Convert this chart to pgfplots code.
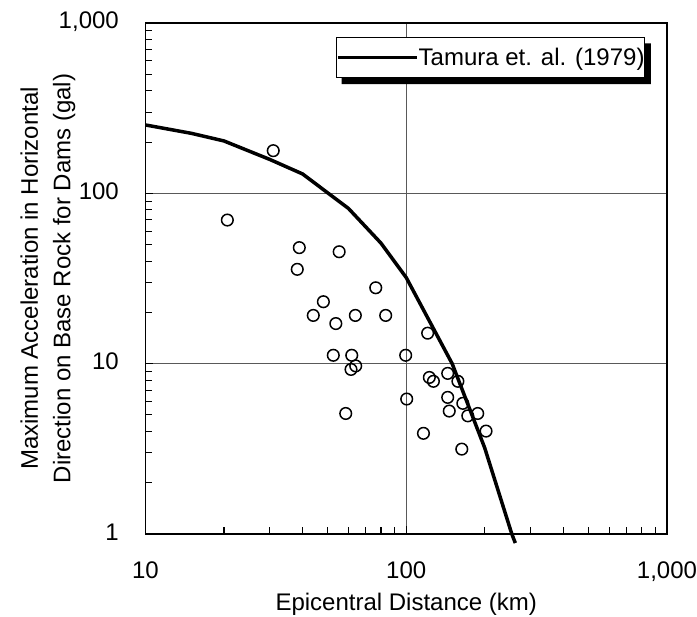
\documentclass[border=0pt]{standalone}
\usepackage{fontspec}
\setmainfont{Liberation Sans}
\usepackage{pgfplots}
\pgfplotsset{compat=1.18}

\newcommand{\chartfont}{\fontsize{24bp}{32.5bp}\selectfont}

% observed peak accelerations (km, gal)
\pgfplotstableread{
dist  acc
30.9  178
20.6  69.7
38.9  48
55.3  45.4
38.2  35.8
76.4  27.9
48.1  23.1
44.0  19.2
63.8  19.2
83.4  19.2
53.7  17.2
52.5  11.2
61.8  11.2
99.5  11.2
64.0  9.7
61.4  9.25
100.4 6.2
58.6  5.1
120.8 15.1
144.2 8.77
122.6 8.3
127.1 7.88
157.8 7.88
144.2 6.34
164.8 5.85
188.0 5.1
146.2 5.27
172.2 4.94
202.3 4.02
116.4 3.9
163.3 3.15
}\obsdata

\begin{document}
\begin{tikzpicture}
\path[use as bounding box] (-145.5bp,-83bp) rectangle (551.5bp,534bp);
\begin{axis}[
  scale only axis,
  width=521.5bp, height=511bp,
  xmode=log, ymode=log,
  xmin=10, xmax=1000, ymin=1, ymax=1000,
  clip=false,
  axis line style={line width=1.5bp},
  xtick={10,100,1000}, xticklabels={10,100,{1,000}},
  ytick={1,10,100,1000}, yticklabels={1,10,100,{1,000}},
  xtick pos=bottom, ytick pos=left,
  tick align=inside,
  major tick length=8bp, minor tick length=7bp,
  every tick/.style={black, line width=1.1bp},
  grid=major,
  major grid style={black!65, line width=0.9bp},
  tick label style={font=\chartfont},
  label style={font=\chartfont},
  xticklabel style={anchor=base, inner sep=0pt, yshift=-44bp},
  yticklabel style={anchor=base east, inner sep=0pt, xshift=-26.5bp, yshift=-6bp},
  xlabel={Epicentral Distance (km)},
  xlabel style={at={(axis description cs:0.5,0)}, anchor=base, inner sep=0pt, yshift=-76bp},
  ylabel={Maximum Acceleration in Horizontal\\Direction on Base Rock for Dams (gal)},
  ylabel style={at={(axis description cs:-0.187,0.5)}, anchor=center, align=center, inner sep=0pt},
  legend style={name=lgd, at={(axis description cs:0.9578,0.972)}, anchor=north east,
    font=\chartfont, draw=black, line width=0.9bp, fill=white,
    inner xsep=0pt, inner ysep=10.5bp, nodes={inner sep=0pt},
    /tikz/every even column/.append style={column sep=5bp}},
  legend image code/.code={
    \path (0bp,0bp) -- (22bp,0bp);
    \draw[#1] (22bp,0bp) -- (79bp,0bp);
  },
]
\addplot[black, line width=3.5bp] coordinates {
  (10,252) (15,225) (20,203) (30,158) (40,130) (60,81.6) (80,51)
  (100,32) (150,10) (200,3.2) (254,1) (262,0.885)
};
\addlegendentry{Tamura et. al. (1979)\hspace{8bp}}
\addplot[only marks, mark=o, mark size=5.8bp, mark options={line width=1.5bp, black}]
  table[x=dist, y=acc] {\obsdata};
\end{axis}
% legend drop shadow, solid black strips on the right and below
\fill[black] ([yshift=-6bp]lgd.north east) rectangle ([xshift=6bp,yshift=-6bp]lgd.south east)
  ([xshift=6bp]lgd.south west) rectangle ([xshift=6bp,yshift=-6bp]lgd.south east);
\end{tikzpicture}
\end{document}
